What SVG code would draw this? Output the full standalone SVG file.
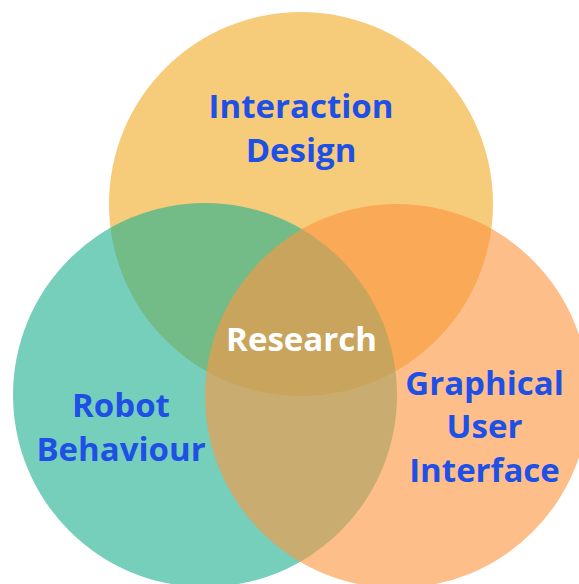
<svg xmlns="http://www.w3.org/2000/svg" width="579" height="584" viewBox="0 0 579 584">
<style>
.c{opacity:0.62}
.t{font-family:"Open Sans","Noto Sans",sans-serif;font-weight:bold;font-size:33px;text-anchor:middle;fill:#1E50E6}
.w{fill:#FFFFFF}
</style>
<rect width="579" height="584" fill="#FFFFFF"/>
<g id="interaction-design">
<circle class="c" cx="301" cy="204" r="192" fill="#F0AB28"/>
</g>
<g id="robot-behaviour">
<circle class="c" cx="205" cy="395" r="192" fill="#22B290"/>
</g>
<g id="gui">
<circle class="c" cx="397" cy="396" r="192" fill="#FC9642"/>
</g>
<g id="connectors"></g>
<g id="labels">
<text class="t" x="301" y="118">Interaction</text>
<text class="t" x="301" y="162">Design</text>
<text class="t" x="121" y="417">Robot</text>
<text class="t" x="121" y="461">Behaviour</text>
<text class="t" x="484.5" y="395">Graphical</text>
<text class="t" x="484.5" y="438">User</text>
<text class="t" x="484.5" y="482">Interface</text>
<text class="t w" x="301.5" y="351">Research</text>
</g>
</svg>
